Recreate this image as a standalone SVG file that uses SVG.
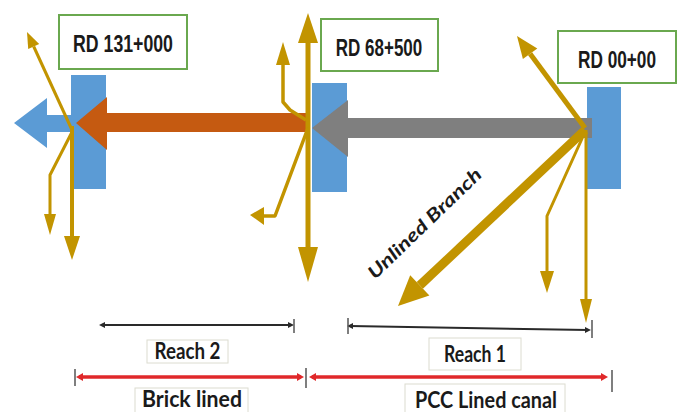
<svg xmlns="http://www.w3.org/2000/svg" width="680" height="412" viewBox="0 0 680 412">
<style>
rect.lbl{fill:#fff;stroke:#6aa84f;stroke-width:2}
rect.pier{fill:#5b9bd5}
.rd{font-family:"Liberation Sans",Arial,sans-serif;font-weight:bold;font-size:23px;fill:#1a1a1a}
.g{fill:none;stroke:#c29400;stroke-linejoin:round}
.gh{fill:#c29400}
.dim{stroke:#2a2a2a;stroke-width:2;fill:none}
.tick{stroke:#555;stroke-width:1.5}
.red{stroke:#e0282a;stroke-width:3.5;fill:none}
.redh{fill:#e0282a}
.tb{fill:#fff;stroke:#dcdcd0;stroke-width:1}
.t{font-family:Lato,"Open Sans",sans-serif;font-weight:bold;fill:#1a1a1a}
</style>
<rect width="680" height="412" fill="#fff"/>

<g id="flows">
  <polygon points="14,123 47,98 47,115 75,115 75,132 47,132 47,148" fill="#5b9bd5"/>
</g>

<g id="node-rd131">
  <rect class="pier" x="71" y="75" width="35" height="114"/>
  <rect class="lbl" x="59" y="15" width="128" height="54"/>
  <text class="rd" transform="translate(123,52) scale(0.77,1)" text-anchor="middle">RD 131+000</text>
</g>
<g id="node-rd68">
  <rect class="pier" x="312" y="83" width="35" height="109"/>
  <rect class="lbl" x="321" y="19" width="117" height="52"/>
  <text class="rd" transform="translate(379,56) scale(0.74,1)" text-anchor="middle">RD 68+500</text>
</g>
<g id="node-rd00">
  <rect class="pier" x="587" y="87" width="34" height="102"/>
  <rect class="lbl" x="558" y="31" width="118" height="52"/>
  <text class="rd" transform="translate(617,68) scale(0.75,1)" text-anchor="middle">RD 00+00</text>
</g>

<g id="connectors">
  <!-- canal reaches -->
  <polygon points="76,123 107,97 107,113 306,113 306,132 107,132 107,150" fill="#c55a11"/>
  <polygon points="312,128 348,100 348,118 592,118 592,138 348,138 348,157" fill="#7f7f7f"/>

  <!-- RD 131+000 branches -->
  <line class="g" x1="72" y1="130" x2="33.7" y2="46.5" stroke-width="3"/>
  <polygon class="gh" points="27,32 39.2,44 28.2,49"/>
  <path class="g" d="M72,132 L50,175 L50,215" stroke-width="3"/>
  <polygon class="gh" points="44,214 56,214 50,235"/>
  <line class="g" x1="72" y1="126" x2="72" y2="237" stroke-width="4"/>
  <polygon class="gh" points="64,236 80,236 72,260"/>

  <!-- RD 68+500 branches -->
  <line class="g" x1="308" y1="40" x2="308" y2="250" stroke-width="5"/>
  <polygon class="gh" points="298,43 318,43 308,13"/>
  <polygon class="gh" points="298,247 318,247 308,282"/>
  <path class="g" d="M306,120 L290,110 L283,102 L283,64" stroke-width="3.5"/>
  <polygon class="gh" points="276,65 290,65 283,42"/>
  <path class="g" d="M308,128 L275,216 L263,216" stroke-width="3.5"/>
  <polygon class="gh" points="264,207 264,225 250,215"/>

  <!-- RD 00+00 branches -->
  <line class="g" x1="585" y1="128" x2="530.1" y2="53.7" stroke-width="5"/>
  <polygon class="gh" points="517,36 537.3,48.4 522.9,59"/>
  <line class="g" x1="585" y1="130" x2="419.8" y2="285.4" stroke-width="9"/>
  <polygon class="gh" points="398,306 429.4,295.6 410.2,275.2"/>
  <path class="g" d="M585,132 L547,216 L547,272" stroke-width="3"/>
  <polygon class="gh" points="540,271 554,271 547,293"/>
  <line class="g" x1="586" y1="130" x2="586" y2="300" stroke-width="3"/>
  <polygon class="gh" points="580,299 592,299 586,323"/>

  <!-- reach dimension lines -->
  <line class="dim" x1="102" y1="325" x2="291" y2="325"/>
  <polygon points="99,325 105,322 105,328" fill="#2a2a2a"/>
  <polygon points="294,325 288,322 288,328" fill="#2a2a2a"/>
  <line class="tick" x1="294" y1="319" x2="294" y2="333"/>
  <line class="dim" x1="350" y1="326" x2="588" y2="330"/>
  <polygon points="347,326 353,323 353,329" fill="#2a2a2a"/>
  <polygon points="591,330 585,327 585,333" fill="#2a2a2a"/>
  <line class="tick" x1="348" y1="318" x2="348" y2="334" stroke="#bbb"/>
  <line class="tick" x1="592" y1="320" x2="592" y2="338"/>

  <!-- lining type lines -->
  <line class="red" x1="79" y1="377" x2="301" y2="377"/>
  <polygon class="redh" points="76,377 83,373 83,381"/>
  <polygon class="redh" points="304,377 297,373 297,381"/>
  <line class="red" x1="312" y1="377" x2="604" y2="377"/>
  <polygon class="redh" points="309,377 316,373 316,381"/>
  <polygon class="redh" points="608,377 601,373 601,381"/>
  <line class="tick" x1="75" y1="369" x2="75" y2="386"/>
  <line class="tick" x1="306" y1="368" x2="306" y2="388"/>
  <line class="tick" x1="612" y1="370" x2="612" y2="392"/>
</g>

<text class="t" font-style="italic" font-size="18" transform="translate(429,228) rotate(-44)" text-anchor="middle" font-family="'Liberation Sans',Arial,sans-serif" textLength="150" lengthAdjust="spacingAndGlyphs">Unlined Branch</text>

<g id="lbl-reach2">
  <rect class="tb" x="147" y="340" width="81" height="23"/>
  <text class="t" x="187.5" y="359" font-size="22" text-anchor="middle" textLength="66" lengthAdjust="spacingAndGlyphs">Reach 2</text>
</g>
<g id="lbl-reach1">
  <rect class="tb" x="429" y="338" width="92" height="32"/>
  <text class="t" x="475" y="362" font-size="22" text-anchor="middle" textLength="62" lengthAdjust="spacingAndGlyphs">Reach 1</text>
</g>
<g id="lbl-brick">
  <rect class="tb" x="135" y="388" width="113" height="30"/>
  <text class="t" x="192" y="407" font-size="22" text-anchor="middle" textLength="100" lengthAdjust="spacingAndGlyphs">Brick lined</text>
</g>
<g id="lbl-pcc">
  <rect class="tb" x="405" y="384" width="160" height="34"/>
  <text class="t" x="486" y="408" font-size="22" text-anchor="middle" textLength="142" lengthAdjust="spacingAndGlyphs">PCC Lined canal</text>
</g>
</svg>
